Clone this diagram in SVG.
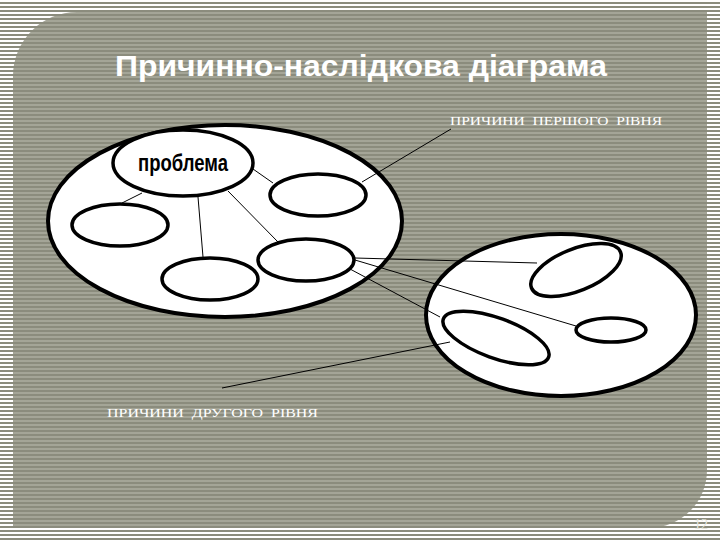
<svg xmlns="http://www.w3.org/2000/svg" width="720" height="540" viewBox="0 0 720 540">
  <defs>
    <pattern id="outerStripes" x="0" y="0" width="8" height="4" patternUnits="userSpaceOnUse">
      <rect x="0" y="0" width="8" height="2" fill="#ffffff"/>
      <rect x="0" y="2" width="8" height="2" fill="#8b8c7d"/>
    </pattern>
    <pattern id="innerStripes" x="0" y="0" width="8" height="4" patternUnits="userSpaceOnUse">
      <rect x="0" y="0" width="8" height="2" fill="#a4a597"/>
      <rect x="0" y="2" width="8" height="2" fill="#8b8c7d"/>
    </pattern>
  </defs>
  <style>
    .big { fill: #ffffff; stroke: #000000; stroke-width: 4; }
    .small { fill: #ffffff; stroke: #000000; stroke-width: 3.5; }
    .conn { fill: none; stroke: #000000; stroke-width: 1; }
    .title { font-family: "Liberation Sans", Arial, sans-serif; font-weight: bold; font-size: 30px; fill: #ffffff; }
    .label { font-family: "Liberation Serif", "Times New Roman", serif; font-size: 13px; fill: #ffffff; white-space: pre; }
    .prob { font-family: "Liberation Sans", Arial, sans-serif; font-weight: bold; font-size: 23px; fill: #000000; }
    .page { font-family: "Liberation Serif", "Times New Roman", serif; font-size: 14px; fill: #e6e6de; }
  </style>

  <g id="background">
    <rect x="0" y="0" width="720" height="540" fill="url(#outerStripes)"/>
    <path d="M 13 528 L 13 76 A 64 64 0 0 1 77 12 L 707 12 L 707 470 A 58 58 0 0 1 649 528 Z" fill="url(#innerStripes)"/>
  </g>

  <text class="title" x="361" y="76" text-anchor="middle" textLength="492" lengthAdjust="spacingAndGlyphs">Причинно-наслідкова діаграма</text>

  <g id="group-first-level">
    <ellipse class="big" cx="225" cy="221" rx="177" ry="96"/>
  </g>
  <g id="group-second-level">
    <ellipse class="big" cx="561" cy="315" rx="135" ry="81"/>
  </g>

  <g id="connectors">
    <line class="conn" x1="253" y1="169" x2="273" y2="183"/>
    <line class="conn" x1="142" y1="193" x2="122" y2="203"/>
    <line class="conn" x1="198" y1="197" x2="203" y2="257"/>
    <line class="conn" x1="228" y1="191" x2="278" y2="242"/>
    <line class="conn" x1="362" y1="182" x2="451" y2="129"/>
    <line class="conn" x1="355" y1="258" x2="537" y2="263"/>
    <line class="conn" x1="355" y1="260" x2="576" y2="326"/>
    <line class="conn" x1="350" y1="269" x2="440" y2="317"/>
    <line class="conn" x1="450" y1="342" x2="222" y2="388"/>
  </g>

  <g id="node-problem">
    <ellipse class="small" cx="183" cy="163" rx="70" ry="33"/>
    <text class="prob" x="183" y="171" text-anchor="middle" textLength="90" lengthAdjust="spacingAndGlyphs">проблема</text>
  </g>
  <g id="node-cause1">
    <ellipse class="small" cx="318" cy="195" rx="48" ry="21"/>
  </g>
  <g id="node-cause2">
    <ellipse class="small" cx="120" cy="225" rx="48" ry="21"/>
  </g>
  <g id="node-cause3">
    <ellipse class="small" cx="210" cy="279" rx="48" ry="21"/>
  </g>
  <g id="node-cause4">
    <ellipse class="small" cx="306" cy="260" rx="48" ry="21"/>
  </g>
  <g id="node-sub1">
    <ellipse class="small" cx="576" cy="270" rx="48" ry="21" transform="rotate(-22 576 270)"/>
  </g>
  <g id="node-sub2">
    <ellipse class="small" cx="496" cy="338" rx="56" ry="20" transform="rotate(20 496 338)"/>
  </g>
  <g id="node-sub3">
    <ellipse class="small" cx="611" cy="330" rx="35" ry="12"/>
  </g>

  <g id="labels">
    <text class="label" x="450" y="125" xml:space="preserve" textLength="212" lengthAdjust="spacingAndGlyphs">ПРИЧИНИ  ПЕРШОГО  РІВНЯ</text>
    <text class="label" x="107" y="417" xml:space="preserve" textLength="211" lengthAdjust="spacingAndGlyphs">ПРИЧИНИ  ДРУГОГО  РІВНЯ</text>
  </g>

  <text class="page" x="694" y="529">12</text>
</svg>
